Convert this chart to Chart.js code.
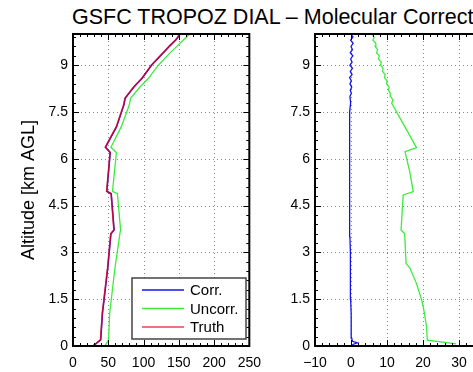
<!DOCTYPE html>
<html>
<head>
<meta charset="utf-8">
<script src="https://cdn.jsdelivr.net/npm/chart.js@4"></script>
<style>
  html, body { margin: 0; padding: 0; background: #fff; overflow: hidden; }
  #wrap { position: relative; width: 473px; height: 372px; overflow: hidden; background: #fff; }
  #title { position: absolute; left: 72px; top: 7px; white-space: nowrap; font: 21.5px/1 'Liberation Sans', Arial, sans-serif; color: #000; }
  canvas { position: absolute; top: 0; }
  #c1 { left: 0; }
  #c2 { left: 270px; }
</style>
</head>
<body>
<div id="wrap">
  <div id="title">GSFC TROPOZ DIAL – Molecular Correction</div>
  <canvas id="c1" width="270" height="372"></canvas>
  <canvas id="c2" width="250" height="372"></canvas>
</div>
<script>
// ---------- Left panel: ozone profiles ----------
const leftAlt   = [0, 0.2, 1.05, 2.5, 3.6, 3.72, 4.88, 4.96, 6.2, 6.37, 7.03, 7.74, 7.94, 8.3, 8.58, 9.0, 9.38, 9.62, 9.8, 9.88, 10];
const truthLeft = [28, 39, 41.5, 49, 53.5, 58, 54, 47.7, 52.5, 45.8, 61.5, 72, 73.6, 86, 97.7, 111, 127, 137, 145, 148, 151];
const corrLeft  = [28.4, 39.3, 41.8, 49.3, 53.8, 58.3, 54.2, 48, 52.8, 46.1, 61.8, 72.3, 73.9, 86.3, 98, 111.3, 127.3, 137.3, 145.4, 148.3, 151.3];
const uncorrLeft= [45, 50.5, 52, 59.5, 66.5, 67.5, 63, 56, 61.5, 53.7, 68.5, 80, 81.5, 95, 107, 121, 137, 148, 156, 160, 165];

// ---------- Right panel: percent differences ----------
const greenAlt = [0.07, 0.19, 0.6, 1.05, 1.45, 2.0, 2.49, 2.65, 3.6, 3.72, 4.84, 4.95, 5.6, 6.23, 6.36, 7.0, 7.78, 7.88,
                  8.0, 8.1, 8.2, 8.3, 8.4, 8.5, 8.6, 8.7, 8.8, 8.9, 9.0, 9.1, 9.2, 9.3, 9.4, 9.5, 9.6, 9.7, 9.8, 9.9, 10.0];
const greenVal = [29.2, 21.2, 21.0, 20.4, 19.7, 18.2, 16.4, 15.3, 14.9, 13.9, 14.5, 17.3, 16.3, 15.0, 18.2, 15.1, 11.3, 11.7,
                  11.0, 10.9, 10.4, 10.6, 9.9, 10.0, 9.3, 9.5, 8.8, 8.9, 8.2, 8.4, 7.6, 7.9, 7.1, 7.4, 6.7, 6.9, 6.1, 6.4, 5.8];
const blueAlt = [0, 0.05, 0.1, 0.15, 0.25, 0.5, 1, 1.5, 2, 2.5, 3, 3.5, 4, 4.5, 5, 5.5, 6, 6.5, 7, 7.5, 7.8,
                 8.0, 8.1, 8.2, 8.3, 8.4, 8.5, 8.6, 8.7, 8.8, 8.9, 9.0, 9.1, 9.2, 9.3, 9.4, 9.5, 9.6, 9.7, 9.8, 9.9, 10.0];
const blueVal = [0.2, 0.5, 1.8, 0.4, 0.2, 0.1, 0.0, -0.1, -0.1, -0.2, -0.2, -0.3, -0.3, -0.35, -0.4, -0.45, -0.45, -0.4, -0.35, -0.3, -0.1,
                 -0.3, 0.1, -0.2, 0.2, -0.3, 0.1, -0.4, 0.3, -0.2, 0.4, -0.3, 0.3, -0.1, 0.5, -0.2, 0.4, 0.0, 0.6, -0.1, 0.5, 0.3];

// ---------- Ticks ----------
const yTicks = [0, 1.5, 3, 4.5, 6, 7.5, 9];
const xTicksLeft = [0, 50, 100, 150, 200, 250];
const xTicksRight = [-10, 0, 10, 20, 30, 40];

const seriesLabels = ['Corr.', 'Uncorr.', 'Truth'];

const FONT = "'Liberation Sans', Arial, sans-serif";
Chart.defaults.font.family = FONT;
Chart.defaults.color = '#000';

const BLUE = 'rgb(20,20,230)';
const GREEN = 'rgb(60,236,60)';
const RED = 'rgba(235,0,20,0.75)';

function pts(xs, ys) { return xs.map((v, i) => ({ x: v, y: ys[i] })); }

const framePlugin = {
  id: 'frame',
  beforeDatasetsDraw(chart, args, o) {
    const { ctx, chartArea: a, scales: { x, y } } = chart;
    ctx.save();
    ctx.strokeStyle = '#8a8a8a';
    ctx.lineWidth = 1;
    ctx.setLineDash([1, 3]);
    ctx.beginPath();
    o.xTicks.forEach(v => {
      const px = Math.round(x.getPixelForValue(v)) + 0.5;
      if (px > a.left + 2 && px < a.right - 2) { ctx.moveTo(px, a.bottom); ctx.lineTo(px, a.top); }
    });
    o.yTicks.forEach(v => {
      const py = Math.round(y.getPixelForValue(v)) + 0.5;
      if (py > a.top + 2 && py < a.bottom - 2) { ctx.moveTo(a.left, py); ctx.lineTo(a.right, py); }
    });
    ctx.stroke();
    ctx.restore();
  },
  afterDatasetsDraw(chart, args, o) {
    const { ctx, chartArea: a, scales: { x, y } } = chart;
    const isMajor = (v, s) => Math.abs(v / s - Math.round(v / s)) < 1e-6;
    ctx.save();
    ctx.strokeStyle = '#000';
    ctx.lineWidth = 1;
    ctx.beginPath();
    const nx = Math.round((x.max - x.min) / o.xMinor);
    for (let i = 0; i <= nx; i++) {
      const v = x.min + i * o.xMinor;
      const px = Math.round(x.getPixelForValue(v)) + 0.5;
      const len = isMajor(v, o.xMajor) ? 6 : 3;
      ctx.moveTo(px, a.bottom); ctx.lineTo(px, a.bottom - len);
      ctx.moveTo(px, a.top); ctx.lineTo(px, a.top + len);
    }
    const ny = Math.round((y.max - y.min) / o.yMinor);
    for (let i = 0; i <= ny; i++) {
      const v = y.min + i * o.yMinor;
      const py = Math.round(y.getPixelForValue(v)) + 0.5;
      const len = isMajor(v, o.yMajor) ? 6 : 3;
      ctx.moveTo(a.left, py); ctx.lineTo(a.left + len, py);
      ctx.moveTo(a.right, py); ctx.lineTo(a.right - len, py);
    }
    ctx.stroke();
    ctx.lineWidth = 2;
    ctx.strokeRect(a.left, a.top, a.right - a.left, a.bottom - a.top);
    ctx.restore();
  }
};

const boxLegendPlugin = {
  id: 'boxLegend',
  afterDraw(chart, args, o) {
    if (!o || !o.show) return;
    const ctx = chart.ctx;
    ctx.save();
    ctx.fillStyle = '#fff';
    ctx.fillRect(o.x, o.y, o.w, o.h);
    ctx.strokeStyle = '#444';
    ctx.lineWidth = 1.5;
    ctx.strokeRect(o.x, o.y, o.w, o.h);
    o.order.forEach((di, i) => {
      const ds = chart.data.datasets[di];
      const yy = o.y + o.first + i * o.step;
      ctx.strokeStyle = ds.borderColor;
      ctx.lineWidth = 1.5;
      ctx.beginPath();
      ctx.moveTo(o.x + 10, yy); ctx.lineTo(o.x + 52, yy);
      ctx.stroke();
      ctx.fillStyle = '#000';
      ctx.font = '15px ' + FONT;
      ctx.textBaseline = 'middle';
      ctx.textAlign = 'left';
      ctx.fillText(ds.label, o.x + 58, yy + 1);
    });
    ctx.restore();
  }
};

function baseOptions(xMin, xMax, xTicks, yWidth, padRight, withTitle) {
  return {
    responsive: false,
    animation: false,
    devicePixelRatio: 1,
    layout: { padding: { top: 34, right: padRight, left: 0, bottom: 0 } },
    plugins: { legend: { display: false }, tooltip: { enabled: false } },
    scales: {
      x: {
        type: 'linear', min: xMin, max: xMax,
        grid: { display: false, drawTicks: false },
        border: { display: false },
        afterBuildTicks: s => { s.ticks = xTicks.map(v => ({ value: v })); },
        afterFit: s => { s.height = 26; },
        ticks: { autoSkip: false, maxRotation: 0, minRotation: 0, padding: 9,
                 font: { size: 14 }, color: '#000',
                 callback: v => String(v).replace('-', '\u2212') }
      },
      y: {
        type: 'linear', min: 0, max: 10,
        grid: { display: false, drawTicks: false },
        border: { display: false },
        afterBuildTicks: s => { s.ticks = yTicks.map(v => ({ value: v })); },
        afterFit: s => { s.width = yWidth; },
        ticks: { autoSkip: false, padding: 5, font: { size: 14 }, color: '#000',
                 callback: v => String(v) },
        title: withTitle ? { display: true, text: 'Altitude [km AGL]', font: { size: 18 }, color: '#000', padding: { top: 18, bottom: 0 } } : { display: false }
      }
    }
  };
}

const opt1 = baseOptions(0, 250, xTicksLeft, 73, 17, true);
opt1.plugins.frame = { xTicks: xTicksLeft, yTicks: yTicks, xMinor: 10, xMajor: 50, yMinor: 0.3, yMajor: 1.5 };
opt1.plugins.boxLegend = { show: true, x: 132, y: 278, w: 114, h: 61, first: 12, step: 18.5, order: [0, 1, 2] };

new Chart(document.getElementById('c1'), {
  type: 'scatter',
  data: {
    datasets: [
      { label: seriesLabels[0], data: pts(corrLeft, leftAlt), showLine: true, borderColor: BLUE, borderWidth: 1.5, pointRadius: 0, order: 2 },
      { label: seriesLabels[1], data: pts(uncorrLeft, leftAlt), showLine: true, borderColor: GREEN, borderWidth: 1.3, pointRadius: 0, order: 3 },
      { label: seriesLabels[2], data: pts(truthLeft, leftAlt), showLine: true, borderColor: RED, borderWidth: 1.6, pointRadius: 0, order: 1 }
    ]
  },
  options: opt1,
  plugins: [framePlugin, boxLegendPlugin]
});

const opt2 = baseOptions(-10, 40, xTicksRight, 45, 25, false);
opt2.plugins.frame = { xTicks: xTicksRight, yTicks: yTicks, xMinor: 2, xMajor: 10, yMinor: 0.3, yMajor: 1.5 };

new Chart(document.getElementById('c2'), {
  type: 'scatter',
  data: {
    datasets: [
      { label: seriesLabels[0], data: pts(blueVal, blueAlt), showLine: true, borderColor: BLUE, borderWidth: 1.3, pointRadius: 0 },
      { label: seriesLabels[1], data: pts(greenVal, greenAlt), showLine: true, borderColor: GREEN, borderWidth: 1.3, pointRadius: 0 }
    ]
  },
  options: opt2,
  plugins: [framePlugin]
});
</script>
</body>
</html>
